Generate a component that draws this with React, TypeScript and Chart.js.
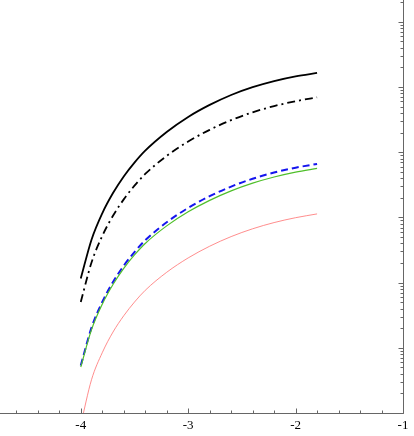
import React, { useEffect, useRef } from "react";
import { Chart, registerables } from "chart.js";

Chart.register(...registerables);

const xValues = [-4, -3.9, -3.8, -3.7, -3.6, -3.5, -3.4, -3.2, -3.0, -2.8, -2.6, -2.4, -2.2, -2.0, -1.8];
const blackSolid = [115.7, 455.5, 1157, 2363, 4252, 6925, 10556, 20420, 34730, 53110, 75460, 99380, 123200, 145400, 164200];
const blackDashDot = [50.5, 203.5, 519.3, 1060, 1890, 3066, 4640, 8772, 14580, 22030, 31090, 40950, 51010, 60600, 69250];
const blueDashed = [5.35, 20.35, 50.5, 102, 181.4, 294.1, 445.2, 841.6, 1399, 2114, 2970, 3911, 4872, 5788, 6614];
const greenSolid = [5.08, 18.99, 46.7, 93.6, 165.4, 265.8, 398.6, 741.6, 1218, 1824, 2551, 3352, 4166, 4949, 5655];
const redThin = [0.664, 3.236, 8.414, 17.44, 31.01, 50.29, 76.12, 143.9, 239.1, 361.4, 507.8, 668.8, 833.2, 989.7, 1131];

const xTickLabels = [-4, -3, -2, -1];
const xMin = -4.752;
const xMax = -1;
const yMin = 1;
const yMax = 2.16e6;

const toPoints = (ys: number[]) => xValues.map((x, i) => ({ x, y: ys[i] }));

const axesPlugin = {
  id: "frameAxes",
  afterDatasetsDraw(chart: any) {
    const { ctx, chartArea, scales } = chart;
    const { left, right, top, bottom } = chartArea;
    const x = scales.x;
    const y = scales.y;
    ctx.save();
    ctx.strokeStyle = "#666";
    ctx.lineWidth = 1;
    ctx.beginPath();
    const by = Math.round(bottom) + 0.5;
    const rx = Math.round(right) + 0.5;
    ctx.moveTo(left, by);
    ctx.lineTo(rx, by);
    ctx.moveTo(rx, top);
    ctx.lineTo(rx, by);
    for (let i = Math.ceil(xMin * 5); i <= Math.floor(xMax * 5); i++) {
      const v = i / 5;
      const px = Math.round(x.getPixelForValue(v)) + 0.5;
      const len = i % 5 === 0 ? 5 : 3;
      ctx.moveTo(px, by);
      ctx.lineTo(px, by - len);
    }
    for (let d = 0; d <= 7; d++) {
      for (let m = 1; m <= 9; m++) {
        const v = m * Math.pow(10, d);
        if (v > yMax || v < yMin) continue;
        const py = Math.round(y.getPixelForValue(v)) + 0.5;
        const len = m === 1 ? 5 : 3;
        ctx.moveTo(rx, py);
        ctx.lineTo(rx - len, py);
      }
    }
    ctx.stroke();
    ctx.restore();
  },
};

export default function App() {
  const ref = useRef<HTMLCanvasElement | null>(null);

  useEffect(() => {
    if (!ref.current) return;
    const chart = new Chart(ref.current, {
      type: "line",
      data: {
        datasets: [
          {
            label: "red",
            data: toPoints(redThin),
            borderColor: "#ff7070",
            borderWidth: 0.8,
            pointRadius: 0,
            cubicInterpolationMode: "monotone",
          },
          {
            label: "green",
            data: toPoints(greenSolid),
            borderColor: "#4fbf2a",
            borderWidth: 1.2,
            pointRadius: 0,
            cubicInterpolationMode: "monotone",
          },
          {
            label: "blue",
            data: toPoints(blueDashed),
            borderColor: "#1515ee",
            borderWidth: 2,
            borderDash: [7, 4],
            pointRadius: 0,
            cubicInterpolationMode: "monotone",
          },
          {
            label: "dashdot",
            data: toPoints(blackDashDot),
            borderColor: "#000",
            borderWidth: 1.8,
            borderDash: [8, 4, 2, 4],
            pointRadius: 0,
            cubicInterpolationMode: "monotone",
          },
          {
            label: "black",
            data: toPoints(blackSolid),
            borderColor: "#000",
            borderWidth: 1.8,
            pointRadius: 0,
            cubicInterpolationMode: "monotone",
          },
        ],
      },
      options: {
        animation: false,
        responsive: false,
        events: [],
        layout: { padding: { left: 0, right: 11, top: 0, bottom: 0 } },
        plugins: { legend: { display: false }, tooltip: { enabled: false } },
        scales: {
          x: {
            type: "linear",
            min: xMin,
            max: xMax,
            grid: { display: false, drawTicks: false },
            border: { display: false },
            afterBuildTicks: (scale: any) => {
              scale.ticks = xTickLabels.map((v) => ({ value: v }));
            },
            afterFit: (scale: any) => {
              scale.height = 23;
            },
            ticks: {
              padding: 5,
              color: "#000",
              maxRotation: 0,
              font: { family: "'Liberation Serif', 'DejaVu Serif', serif", size: 13 },
              callback: (v: any) => String(v),
            },
          },
          y: {
            type: "logarithmic",
            display: false,
            min: yMin,
            max: yMax,
          },
        },
      },
      plugins: [axesPlugin],
    });
    return () => chart.destroy();
  }, []);

  return (
    <div style={{ position: "absolute", left: 0, top: 0, width: 414, height: 436, background: "#fff" }}>
      <canvas ref={ref} width={414} height={436} style={{ display: "block" }} />
    </div>
  );
}
